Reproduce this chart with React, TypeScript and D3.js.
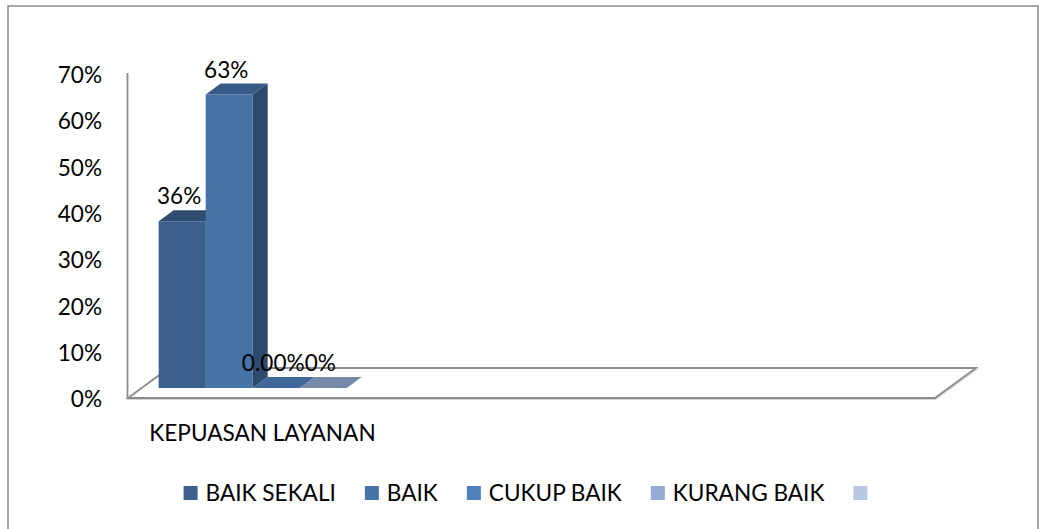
import React, { useEffect, useRef } from "react";
import * as d3 from "d3";

// ---------- data ----------
const categoryIds = ["c1", "c2", "c3"];
const categoryLabels = ["KEPUASAN LAYANAN", "", ""];
const seriesNames = ["BAIK SEKALI", "BAIK", "CUKUP BAIK", "KURANG BAIK", ""];
const seriesColors = ["#3a5f8b", "#4572a7", "#4f81bd", "#95abd3", "#b9c6e4"];
// values of the first category, one per series (null = no data)
const seriesValues: (number | null)[] = [0.36, 0.634, 0, 0, null];
const valueLabels = ["36%", "63%", "0.00%", "0%", ""];
const yTicks = [0, 0.1, 0.2, 0.3, 0.4, 0.5, 0.6, 0.7];
const yTickLabels = ["0%", "10%", "20%", "30%", "40%", "50%", "60%", "70%"];

// ---------- layout ----------
const W = 1039;
const H = 529;
const X0 = 128;
const X1 = 935;
const Y_BASE = 398;
const Y_TOP = 74;
const DX = 41; // floor depth offset
const DY = -30;
const Z_FRONT = 0.335;
const Z_BACK = 0.7;
const FONT = "Lato, 'Open Sans', sans-serif";
const FS = 22.6;

function shade(c: string, k: number) {
  const r = d3.rgb(c);
  return d3.rgb(r.r * k, r.g * k, r.b * k).formatHex();
}

export default function App() {
  const ref = useRef<SVGSVGElement>(null);

  useEffect(() => {
    const svg = d3.select(ref.current!);
    svg.selectAll("*").remove();

    const xCat = d3.scaleBand<string>().domain(categoryIds).range([X0, X1]).padding(0);
    const sIdx = seriesNames.map((_, i) => String(i));
    const xSer = d3
      .scaleBand<string>()
      .domain(sIdx)
      .range([0, xCat.bandwidth()])
      .paddingInner(0)
      .paddingOuter(0.36);
    const y = d3.scaleLinear().domain([0, 0.7]).range([Y_BASE, Y_TOP]);

    const P = (x: number, v: number, z: number): [number, number] => [x + z * DX, y(v) + z * DY];
    const poly = (pts: [number, number][]) => pts.map((p) => p.join(",")).join(" ");

    // outer border
    svg
      .append("rect")
      .attr("x", 8)
      .attr("y", 6)
      .attr("width", 1030)
      .attr("height", 540)
      .attr("fill", "#fff")
      .attr("stroke", "#898989")
      .attr("stroke-width", 1.5);

    // floor
    const floorPts: [number, number][] = [P(X0, 0, 0), P(X0, 0, 1), P(X1, 0, 1), P(X1, 0, 0)];
    svg
      .append("polygon")
      .attr("points", poly(floorPts.map(([a, b]) => [a + 0.8, b + 1.2] as [number, number])))
      .attr("fill", "none")
      .attr("stroke", "#d4d4d4")
      .attr("stroke-width", 1.5);
    svg
      .append("polygon")
      .attr("points", poly(floorPts))
      .attr("fill", "#fff")
      .attr("stroke", "#8c8c8c")
      .attr("stroke-width", 1.8)
      .attr("stroke-linejoin", "miter");

    // vertical axis line
    svg
      .append("line")
      .attr("x1", X0 - 0.5)
      .attr("x2", X0 - 0.5)
      .attr("y1", y(0.7) - 1)
      .attr("y2", y(0))
      .attr("stroke", "#8c8c8c")
      .attr("stroke-width", 1.8);

    // y tick labels
    svg
      .append("g")
      .selectAll("text")
      .data(yTicks)
      .join("text")
      .attr("x", 102)
      .attr("y", (d) => y(d) + 1)
      .attr("dy", "0.36em")
      .attr("text-anchor", "end")
      .attr("font-family", FONT)
      .attr("font-size", FS)
      .attr("fill", "#000")
      .text((_, i) => yTickLabels[i]);

    // bars (first category only has data)
    const cat = categoryIds[0];
    const bw = xSer.bandwidth();
    const gBars = svg.append("g");
    seriesValues.forEach((v, i) => {
      if (v === null) return;
      const xl = (xCat(cat) as number) + (xSer(String(i)) as number);
      const xr = xl + bw;
      const col = seriesColors[i];
      if (v > 0) {
        gBars
          .append("polygon")
          .attr("points", poly([P(xl, v, Z_FRONT), P(xr, v, Z_FRONT), P(xr, 0, Z_FRONT), P(xl, 0, Z_FRONT)]))
          .attr("fill", col);
        gBars
          .append("polygon")
          .attr("points", poly([P(xr, v, Z_FRONT), P(xr, v, Z_BACK), P(xr, 0, Z_BACK), P(xr, 0, Z_FRONT)]))
          .attr("fill", shade(col, 0.65));
      }
      gBars
        .append("polygon")
        .attr("points", poly([P(xl, v, Z_FRONT), P(xr, v, Z_FRONT), P(xr, v, Z_BACK), P(xl, v, Z_BACK)]))
        .attr("fill", shade(col, 0.8));
    });

    // data labels
    const gLab = svg.append("g");
    seriesValues.forEach((v, i) => {
      if (v === null || !valueLabels[i]) return;
      const xl = (xCat(cat) as number) + (xSer(String(i)) as number);
      const [fx] = P(xl + bw / 2, v, Z_FRONT);
      const [, by] = P(xl, v, Z_BACK);
      gLab
        .append("text")
        .attr("x", fx - 3)
        .attr("y", by - 6)
        .attr("text-anchor", "middle")
        .attr("font-family", FONT)
        .attr("font-size", FS)
        .attr("fill", "#000")
        .text(valueLabels[i]);
    });

    // category labels
    svg
      .append("g")
      .selectAll("text")
      .data(categoryIds)
      .join("text")
      .attr("x", (d) => (xCat(d) as number) + xCat.bandwidth() / 2)
      .attr("y", 441)
      .attr("text-anchor", "middle")
      .attr("font-family", FONT)
      .attr("font-size", FS)
      .attr("fill", "#000")
      .text((_, i) => categoryLabels[i]);

    // legend
    const gLeg = svg.append("g");
    const SQ = 14;
    const GAP1 = 8;
    const GAP2 = 29;
    const items = seriesNames.map((name, i) => {
      const t = gLeg
        .append("text")
        .attr("font-family", FONT)
        .attr("font-size", FS)
        .attr("fill", "#000")
        .attr("y", 501)
        .text(name);
      const w = name ? (t.node() as SVGTextElement).getComputedTextLength() : 0;
      return { t, w, i };
    });
    const total = items.reduce((s, it, k) => s + SQ + (it.w ? GAP1 + it.w : 0) + (k < items.length - 1 ? GAP2 : 0), 0);
    let cx = 525.5 - total / 2;
    items.forEach((it) => {
      gLeg
        .append("rect")
        .attr("x", cx)
        .attr("y", 486)
        .attr("width", SQ)
        .attr("height", SQ)
        .attr("fill", seriesColors[it.i]);
      cx += SQ;
      if (it.w) {
        it.t.attr("x", cx + GAP1);
        cx += GAP1 + it.w;
      }
      cx += GAP2;
    });
  }, []);

  return (
    <svg
      ref={ref}
      width={W}
      height={H}
      style={{ position: "absolute", left: 0, top: 0, display: "block", background: "#fff" }}
    />
  );
}
